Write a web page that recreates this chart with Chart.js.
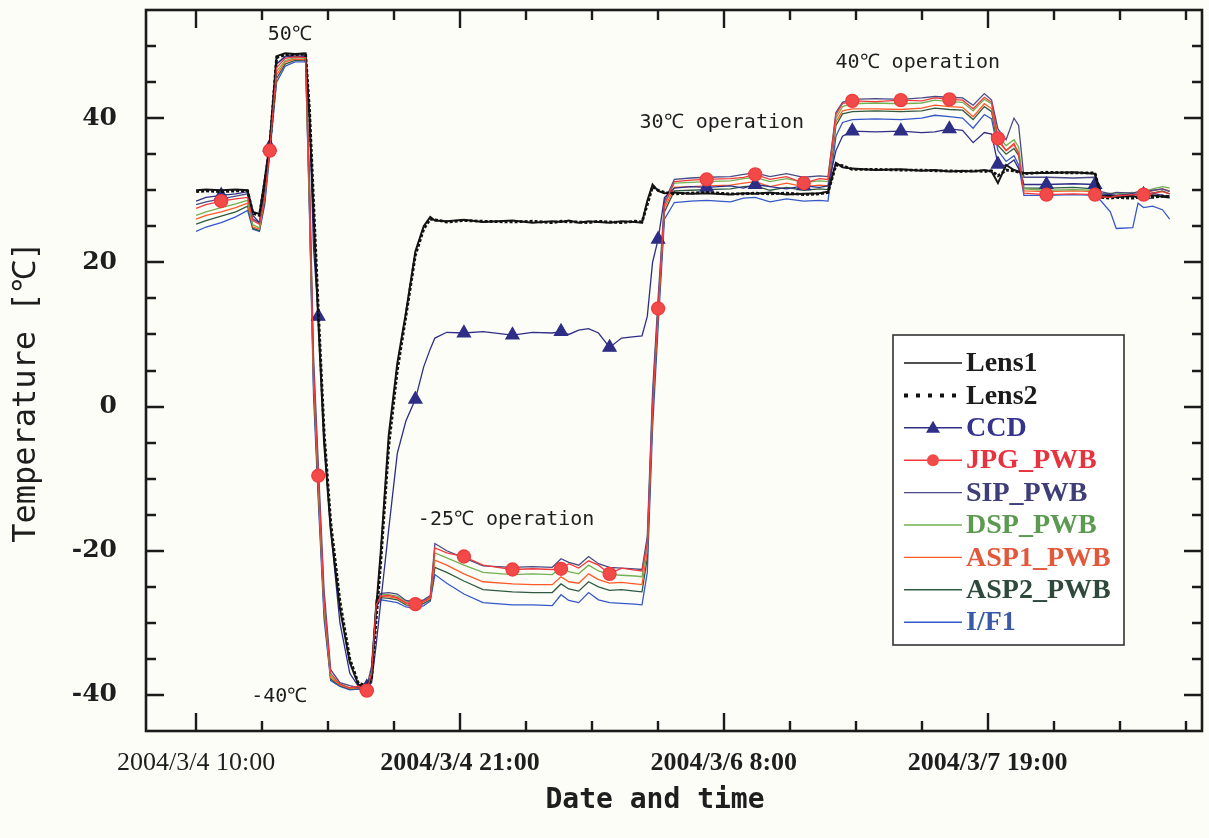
<!DOCTYPE html>
<html>
<head>
<meta charset="utf-8">
<title>Temperature log</title>
<script src="https://cdn.jsdelivr.net/npm/chart.js@4.4.1/dist/chart.umd.min.js"></script>
<style>
  html, body { margin: 0; padding: 0; background: #fdfdf8; }
  #wrap { width: 1209px; height: 838px; }
</style>
</head>
<body>
<div id="wrap"><canvas id="c" width="1209" height="838"></canvas></div>
<script>
// Elapsed time, in axis tick units (one minor tick per unit)
const time = [
  0.00, 0.15, 0.38, 0.60, 0.78, 0.86, 0.96, 1.04, 1.116, 1.22,
  1.35, 1.50, 1.66, 1.72, 1.78, 1.852, 1.94, 2.04, 2.18, 2.33,
  2.46, 2.588, 2.66, 2.73, 2.80, 2.92, 3.05, 3.18, 3.324, 3.45,
  3.55, 3.62, 3.80, 4.06, 4.35, 4.796, 5.10, 5.40, 5.532, 5.65,
  5.80, 5.95, 6.10, 6.268, 6.45, 6.65, 6.76, 6.84, 6.92, 7.004,
  7.10, 7.25, 7.50, 7.74, 8.10, 8.30, 8.476, 8.70, 8.95, 9.212,
  9.45, 9.58, 9.70, 9.80, 9.948, 10.30, 10.684, 11.00, 11.20, 11.42,
  11.62, 11.78, 11.95, 12.06, 12.156, 12.28, 12.40, 12.47, 12.55, 12.892,
  13.30, 13.628, 13.72, 13.86, 13.95, 14.20, 14.28, 14.364, 14.50, 14.65,
  14.76
];

// Temperatures [°C] per sensor
const lens1 = [
  30.0, 30.1, 30.0, 30.1, 30.0, 27.0, 26.7, 31.5, 36.5, 48.6,
  49.0, 48.9, 49.0, 40.0, 27.0, 12.0, -5.0, -17.0, -28.0, -35.5,
  -38.6, -38.8, -37.5, -28.0, -20.0, -4.0, 6.0, 13.0, 21.5, 25.0,
  26.3, 25.8, 25.7, 25.9, 25.6, 25.8, 25.5, 25.7, 25.6, 25.8,
  25.5, 25.7, 25.6, 25.5, 25.7, 25.6, 25.5, 28.5, 30.8, 29.9,
  29.6, 29.7, 29.5, 29.6, 29.4, 29.6, 29.5, 29.7, 29.4, 29.5,
  29.6, 29.8, 33.8, 33.2, 33.0, 32.8, 32.9, 32.7, 32.8, 32.6,
  32.7, 32.6, 32.8, 32.6, 31.0, 33.5, 32.8, 32.6, 32.4, 32.4,
  32.5, 32.3, 29.2, 29.2, 29.1, 29.2, 29.0, 29.2, 29.3, 29.1,
  29.0
];
const lens2 = [
  29.8, 29.9, 29.8, 29.9, 29.9, 26.8, 26.5, 31.0, 36.0, 48.4,
  48.8, 48.8, 48.9, 41.0, 28.5, 13.5, -3.5, -16.0, -27.0, -35.0,
  -38.4, -38.7, -37.8, -29.5, -21.5, -5.5, 5.0, 12.5, 21.0, 24.6,
  26.0, 25.9, 25.6, 25.8, 25.7, 25.6, 25.7, 25.5, 25.7, 25.6,
  25.6, 25.5, 25.7, 25.6, 25.5, 25.7, 25.6, 28.0, 30.5, 30.0,
  29.7, 29.5, 29.6, 29.7, 29.5, 29.5, 29.6, 29.5, 29.6, 29.4,
  29.5, 29.7, 33.5, 33.4, 32.9, 32.9, 32.8, 32.8, 32.7, 32.7,
  32.6, 32.7, 32.6, 32.7, 32.0, 32.8, 32.7, 32.5, 32.3, 32.5,
  32.4, 32.4, 29.0, 28.9, 29.0, 28.9, 29.0, 29.1, 29.0, 29.2,
  29.1
];
const ccd = [
  28.5, 29.0, 29.3, 29.5, 29.8, 26.5, 25.5, 30.5, 36.0, 47.5,
  48.5, 48.6, 48.5, 40.0, 22.0, 12.5, -4.0, -17.0, -30.0, -37.0,
  -38.8, -38.9, -38.3, -33.0, -27.0, -17.0, -6.5, -2.0, 1.0, 5.5,
  8.0, 9.5, 10.3, 10.2, 10.4, 9.9, 10.3, 10.2, 10.4, 10.0,
  10.6, 10.8, 10.2, 8.2, 9.5, 9.7, 9.8, 12.5, 20.0, 23.2,
  29.0, 30.3, 30.5, 30.4, 30.6, 30.3, 30.8, 30.5, 30.2, 30.6,
  30.4, 30.6, 35.5, 37.5, 38.2, 38.1, 38.2, 38.0, 38.1, 38.5,
  38.3, 36.6, 38.0, 37.8, 33.6, 33.4, 34.2, 33.0, 30.8, 30.8,
  30.9, 30.8, 29.5, 29.4, 29.3, 29.5, 29.4, 29.4, 29.6, 29.3,
  29.2
];
const jpgPwb = [
  27.5, 28.0, 28.5, 28.8, 29.0, 25.8, 25.3, 29.0, 35.5, 47.0,
  48.3, 48.5, 48.4, 30.0, 5.0, -9.6, -27.0, -37.0, -38.5, -39.0,
  -38.8, -39.4, -37.0, -27.5, -26.3, -26.2, -26.5, -27.2, -27.4, -27.0,
  -26.5, -19.6, -20.3, -20.8, -22.0, -22.6, -22.5, -22.6, -22.5, -21.8,
  -22.4, -21.4, -22.0, -23.2, -22.4, -22.7, -22.8, -19.0, 0.0, 13.6,
  28.0, 31.2, 31.4, 31.5, 31.6, 31.8, 32.2, 31.5, 31.9, 31.0,
  31.6, 31.5, 40.5, 42.0, 42.4, 42.3, 42.5, 42.4, 42.8, 42.6,
  42.5, 41.3, 42.9, 42.2, 37.2, 35.5, 36.5, 35.0, 29.6, 29.4,
  29.5, 29.4, 29.1, 29.0, 29.2, 29.4, 29.3, 29.4, 29.6, 29.8,
  29.5
];
const sipPwb = [
  28.0, 28.4, 28.8, 29.2, 29.5, 26.0, 25.5, 30.0, 37.0, 47.5,
  48.6, 48.8, 48.7, 31.0, 7.0, -8.0, -25.5, -36.5, -38.3, -38.7,
  -39.0, -38.8, -36.0, -26.8, -25.9, -25.8, -26.0, -26.9, -27.1, -26.8,
  -26.2, -19.0, -20.0, -21.0, -22.1, -22.3, -22.2, -22.3, -21.1, -21.6,
  -22.0, -20.8, -21.8, -22.3, -22.4, -22.5, -22.6, -18.0, 2.0, 15.0,
  28.5, 31.5, 31.7, 31.8, 31.9, 32.2, 32.4, 31.9, 32.3, 31.8,
  32.0, 31.9, 40.8, 42.2, 42.6, 42.7, 42.6, 42.8, 43.0, 42.9,
  42.8, 41.8, 43.4, 42.5, 38.5, 37.0, 40.0, 39.0, 31.8, 31.8,
  31.7, 31.8, 29.8, 29.5, 29.7, 29.6, 29.8, 29.7, 30.0, 30.2,
  29.8
];
const dspPwb = [
  26.5, 27.0, 27.6, 28.1, 28.6, 25.2, 24.8, 29.5, 36.5, 46.5,
  48.0, 48.4, 48.3, 29.0, 5.0, -10.0, -27.5, -37.3, -38.5, -39.0,
  -38.9, -39.1, -37.0, -27.0, -26.0, -26.1, -26.3, -27.0, -27.2, -26.9,
  -26.4, -20.3, -21.0, -22.0, -23.0, -23.3, -23.2, -23.3, -22.3, -22.9,
  -23.2, -22.0, -22.8, -23.3, -23.4, -23.5, -23.6, -19.0, 1.0, 14.0,
  28.0, 31.0, 31.1, 31.2, 31.3, 31.6, 31.8, 31.2, 31.6, 31.1,
  31.3, 31.2, 40.0, 41.6, 42.0, 42.1, 42.0, 42.1, 42.5, 42.3,
  42.2, 41.0, 42.6, 42.0, 37.5, 36.2, 37.0, 36.0, 30.2, 30.0,
  30.1, 30.0, 29.5, 29.6, 29.5, 29.7, 29.6, 29.8, 30.2, 30.5,
  30.3
];
const asp1Pwb = [
  26.0, 26.5, 27.0, 27.6, 28.2, 24.9, 24.6, 29.0, 36.0, 46.0,
  47.8, 48.2, 48.1, 28.0, 4.0, -11.0, -28.0, -37.6, -38.6, -39.1,
  -39.0, -39.2, -37.2, -27.2, -26.3, -26.4, -26.6, -27.3, -27.5, -27.1,
  -26.6, -21.3, -22.0, -23.2, -24.3, -24.6, -24.7, -24.7, -23.6, -24.3,
  -24.5, -23.2, -24.0, -24.5, -24.4, -24.6, -24.7, -20.0, 0.0, 13.0,
  27.5, 30.4, 30.5, 30.6, 30.7, 31.0, 31.2, 30.5, 31.0, 30.5,
  30.7, 30.6, 39.5, 41.0, 41.3, 41.3, 41.2, 41.4, 41.8, 41.6,
  41.5, 40.2, 42.0, 41.3, 36.8, 35.5, 36.3, 35.2, 29.9, 29.8,
  29.9, 29.8, 29.3, 29.4, 29.3, 29.5, 29.4, 29.6, 29.9, 30.2,
  29.9
];
const asp2Pwb = [
  25.3, 25.8, 26.4, 27.0, 27.8, 24.7, 24.4, 28.5, 35.5, 45.5,
  47.5, 48.0, 48.0, 27.0, 3.0, -12.0, -28.5, -37.8, -38.7, -39.2,
  -39.1, -39.3, -37.5, -27.4, -26.5, -26.6, -26.8, -27.5, -27.7, -27.3,
  -26.8, -22.3, -23.0, -24.2, -25.4, -25.7, -25.8, -25.8, -24.6, -25.3,
  -25.6, -24.3, -25.0, -25.5, -25.4, -25.6, -25.7, -21.0, -1.0, 12.5,
  27.0, 29.9, 30.0, 30.1, 30.2, 30.5, 30.6, 30.0, 30.4, 30.0,
  30.2, 30.1, 39.0, 40.6, 40.9, 41.0, 40.9, 41.0, 41.4, 41.2,
  41.1, 39.8, 41.6, 40.9, 36.2, 35.0, 35.8, 34.8, 30.3, 30.3,
  30.4, 30.2, 29.0, 29.1, 29.0, 29.2, 29.1, 29.3, 29.6, 29.9,
  29.5
];
const if1 = [
  24.3, 24.9, 25.5, 26.3, 27.2, 24.6, 24.3, 28.0, 35.0, 45.0,
  47.2, 47.8, 47.8, 26.0, 1.5, -13.0, -29.5, -38.0, -38.8, -39.3,
  -39.2, -39.4, -38.0, -27.8, -26.8, -27.0, -27.2, -27.8, -28.0, -27.6,
  -27.0, -23.3, -24.5, -26.0, -27.2, -27.5, -27.5, -27.6, -26.1, -26.9,
  -27.2, -25.8, -26.8, -27.2, -27.3, -27.4, -27.5, -23.0, -3.0, 11.0,
  26.0, 28.3, 28.5, 28.6, 28.4, 28.9, 29.0, 28.4, 28.8, 28.5,
  28.6, 28.5, 37.5, 39.4, 39.8, 39.9, 39.8, 40.0, 40.4, 40.2,
  40.0, 38.6, 40.5, 39.9, 35.5, 34.0, 34.8, 33.5, 29.3, 29.3,
  29.4, 29.3, 28.5, 27.0, 24.7, 24.8, 28.2, 27.6, 27.8, 27.3,
  26.0
];

// Samples that carry a plot symbol (CCD and JPG_PWB)
const markerIdx = [2, 8, 15, 21, 28, 33, 35, 38, 43, 49, 53, 56, 59, 64, 66, 69, 74, 79, 81, 87];

// Time axis: labelled (major) ticks and their text
const xMajorTicks = [0, 4, 8, 12];
const xTickLabels = ['2004/3/4 10:00', '2004/3/4 21:00', '2004/3/6 8:00', '2004/3/7 19:00'];
const yLabelTicks = [-40, -20, 0, 20, 40];

const seriesNames = ['Lens1', 'Lens2', 'CCD', 'JPG_PWB', 'SIP_PWB', 'DSP_PWB', 'ASP1_PWB', 'ASP2_PWB', 'I/F1'];
const seriesValues = [lens1, lens2, ccd, jpgPwb, sipPwb, dspPwb, asp1Pwb, asp2Pwb, if1];

const lineColors = ['#161616', '#111111', '#2e2e86', '#f0383c', '#4a4a86', '#72b052', '#ff5a28', '#2f5a40', '#3558c8'];
const textColors = ['#1c1c1c', '#1c1c1c', '#34348a', '#e8323e', '#3e3e78', '#5c9a52', '#e2583a', '#2e4a3c', '#3a5aa8'];

const markerSet = new Set(markerIdx);

function makeDataset(i) {
  const name = seriesNames[i];
  const ds = {
    label: name,
    data: time.map((t, k) => ({ x: t, y: seriesValues[i][k] })),
    borderColor: lineColors[i],
    backgroundColor: lineColors[i],
    borderWidth: 1.3,
    pointRadius: 0,
    pointHoverRadius: 0,
    tension: 0,
    order: 5
  };
  if (name === 'Lens1') { ds.borderWidth = 2.0; ds.order = 2; }
  if (name === 'Lens2') { ds.borderWidth = 2.8; ds.borderDash = [3, 2]; ds.order = 1; }
  if (name === 'CCD') {
    ds.pointStyle = 'triangle';
    ds.pointRadius = ctx => markerSet.has(ctx.dataIndex) ? 7.5 : 0;
    ds.order = 3;
  }
  if (name === 'JPG_PWB') {
    ds.pointStyle = 'circle';
    ds.pointRadius = ctx => markerSet.has(ctx.dataIndex) ? 6.5 : 0;
    ds.borderColor = '#f03a3e';
    ds.backgroundColor = '#f24a48';
    ds.order = 0;
  }
  return ds;
}

// Frame with inward tick marks on all four sides
const frameTicks = {
  id: 'frameTicks',
  afterDatasetsDraw(chart) {
    const { ctx, chartArea: a, scales: { x, y } } = chart;
    ctx.save();
    ctx.strokeStyle = '#1b1b1b';
    ctx.lineWidth = 2.6;
    ctx.strokeRect(a.left, a.top, a.right - a.left, a.bottom - a.top);
    ctx.lineWidth = 2.4;
    ctx.beginPath();
    x.ticks.forEach(t => {
      if (t.value <= x.min || t.value >= x.max) return;
      const p = Math.round(x.getPixelForValue(t.value));
      const len = xMajorTicks.includes(t.value) ? 18 : 10;
      ctx.moveTo(p, a.bottom); ctx.lineTo(p, a.bottom - len);
      ctx.moveTo(p, a.top); ctx.lineTo(p, a.top + len);
    });
    y.ticks.forEach(t => {
      if (t.value <= y.min || t.value >= y.max) return;
      const p = Math.round(y.getPixelForValue(t.value));
      const len = yLabelTicks.includes(t.value) ? 18 : 10;
      ctx.moveTo(a.left, p); ctx.lineTo(a.left + len, p);
      ctx.moveTo(a.right, p); ctx.lineTo(a.right - len, p);
    });
    ctx.stroke();
    ctx.restore();
  }
};

// Text notes placed in data coordinates
const notes = [
  { text: '50℃', x: 1.42, y: 51.6 },
  { text: '-40℃', x: 1.26, y: -40.2 },
  { text: '-25℃ operation', x: 4.70, y: -15.7 },
  { text: '30℃ operation', x: 7.97, y: 39.3 },
  { text: '40℃ operation', x: 10.94, y: 47.7 }
];

const notesAndTitles = {
  id: 'notesAndTitles',
  afterDraw(chart) {
    const { ctx, scales: { x, y } } = chart;
    ctx.save();
    ctx.fillStyle = '#1e1e1e';
    ctx.textAlign = 'center';
    ctx.textBaseline = 'middle';
    ctx.font = '20px "DejaVu Sans Mono", monospace';
    notes.forEach(n => ctx.fillText(n.text, x.getPixelForValue(n.x), y.getPixelForValue(n.y)));

    // axis titles
    ctx.font = 'bold 28px "DejaVu Sans Mono", monospace';
    ctx.fillText('Date and time', 655, 801);
    ctx.translate(27, 392);
    ctx.rotate(-Math.PI / 2);
    ctx.font = '32px "DejaVu Sans Mono", monospace';
    ctx.fillText('Temperature [℃]', 0, 0);
    ctx.restore();
  }
};

// Boxed legend inside the plot
const boxLegend = {
  id: 'boxLegend',
  afterDraw(chart) {
    const { ctx } = chart;
    const box = { left: 893, top: 335, width: 231, height: 310 };
    const rowTop = 363, rowStep = 32.4;
    ctx.save();
    ctx.fillStyle = '#ffffff';
    ctx.fillRect(box.left, box.top, box.width, box.height);
    ctx.strokeStyle = '#333333';
    ctx.lineWidth = 1.6;
    ctx.strokeRect(box.left, box.top, box.width, box.height);
    chart.data.datasets.forEach((ds, i) => {
      const yy = rowTop + i * rowStep;
      const x0 = 904, x1 = 962;
      ctx.strokeStyle = ds.borderColor;
      if (ds.borderDash) {
        ctx.lineWidth = 4;
        ctx.setLineDash([4, 8]);
      } else {
        ctx.lineWidth = 1.4;
        ctx.setLineDash([]);
      }
      ctx.beginPath();
      ctx.moveTo(x0, yy); ctx.lineTo(x1, yy);
      ctx.stroke();
      ctx.setLineDash([]);
      const cx = (x0 + x1) / 2;
      ctx.fillStyle = ds.backgroundColor;
      if (ds.pointStyle === 'triangle') {
        ctx.beginPath();
        ctx.moveTo(cx, yy - 7); ctx.lineTo(cx + 7, yy + 5); ctx.lineTo(cx - 7, yy + 5);
        ctx.closePath(); ctx.fill();
      } else if (ds.pointStyle === 'circle') {
        ctx.beginPath(); ctx.arc(cx, yy, 6, 0, Math.PI * 2); ctx.fill();
      }
      ctx.fillStyle = textColors[i];
      ctx.font = 'bold 28px "Liberation Serif", "Times New Roman", serif';
      ctx.textAlign = 'left';
      ctx.textBaseline = 'middle';
      ctx.fillText(ds.label, 966, yy + 1);
    });
    ctx.restore();
  }
};

const bgPlugin = {
  id: 'bg',
  beforeDraw(chart) {
    const { ctx } = chart;
    ctx.save();
    ctx.fillStyle = '#fdfdf8';
    ctx.fillRect(0, 0, chart.width, chart.height);
    ctx.restore();
  }
};

function noPadding(scale) {
  scale.paddingTop = 0;
  scale.paddingBottom = 0;
  scale.paddingLeft = 0;
  scale.paddingRight = 0;
}

new Chart(document.getElementById('c'), {
  type: 'line',
  data: { datasets: seriesNames.map((_, i) => makeDataset(i)) },
  options: {
    responsive: false,
    animation: false,
    devicePixelRatio: 1,
    layout: { padding: { left: 0, right: 7, top: 10, bottom: 0 } },
    plugins: { legend: { display: false }, tooltip: { enabled: false } },
    scales: {
      x: {
        type: 'linear',
        min: -0.76,
        max: 15.25,
        grid: { display: false },
        border: { display: false },
        afterFit(scale) { scale.height = 107; noPadding(scale); },
        ticks: {
          stepSize: 1,
          includeBounds: false,
          autoSkip: false,
          maxRotation: 0,
          padding: 9,
          color: '#1e1e1e',
          font: ctx => ({
            family: '"Liberation Serif", "Times New Roman", serif',
            size: 26,
            weight: ctx.tick && ctx.tick.value === 0 ? 'normal' : 'bold'
          }),
          callback: v => {
            const k = xMajorTicks.indexOf(v);
            return k >= 0 ? xTickLabels[k] : '';
          }
        }
      },
      y: {
        min: -45,
        max: 55,
        grid: { display: false },
        border: { display: false },
        afterFit(scale) { scale.width = 146; noPadding(scale); },
        ticks: {
          stepSize: 5,
          includeBounds: false,
          autoSkip: false,
          padding: 21,
          color: '#1e1e1e',
          font: { family: '"DejaVu Serif", "Liberation Serif", serif', size: 25, weight: 'bold' },
          callback: v => yLabelTicks.includes(v) ? String(v) : ''
        }
      }
    }
  },
  plugins: [bgPlugin, frameTicks, notesAndTitles, boxLegend]
});
</script>
</body>
</html>
